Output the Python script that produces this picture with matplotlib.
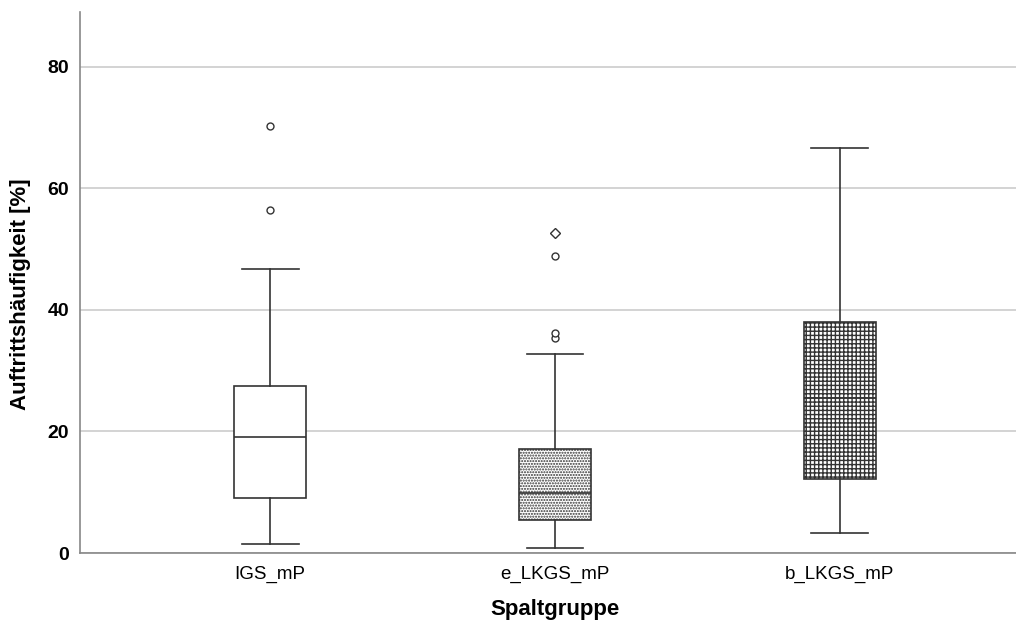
import matplotlib.pyplot as plt

plt.rcParams['font.family'] = ['Liberation Sans', 'DejaVu Sans']

groups = ["IGS_mP", "e_LKGS_mP", "b_LKGS_mP"]
whislo = [1.5, 0.8, 3.3]
q1 = [9.0, 5.4, 12.2]
med = [19.1, 9.9, 25.5]
q3 = [27.5, 17.1, 38.0]
whishi = [46.7, 32.8, 66.7]
outliers = [[56.5, 70.3], [35.4, 36.2, 48.9], []]
extremes = [[], [52.7], []]
hatches = ["", "......", "++++"]

stats = []
for i, g in enumerate(groups):
    stats.append(dict(label=g, whislo=whislo[i], q1=q1[i], med=med[i],
                      q3=q3[i], whishi=whishi[i], fliers=outliers[i]))

fig = plt.figure(figsize=(10.16, 6.23), dpi=100)
ax = fig.add_axes([80 / 1016, 70 / 623, 950 / 1016, 541 / 623])

plt.rcParams['hatch.color'] = '#444444'
bp = ax.bxp(stats, positions=[1, 2, 3], widths=0.253, patch_artist=True,
            boxprops=dict(facecolor="white", edgecolor="#333333", linewidth=1.2),
            medianprops=dict(color="#333333", linewidth=1.2),
            whiskerprops=dict(color="#333333", linewidth=1.2),
            capprops=dict(color="#333333", linewidth=1.2),
            capwidths=0.2,
            flierprops=dict(marker="o", markersize=5, markerfacecolor="white",
                            markeredgecolor="#333333", markeredgewidth=1.0))
for box, h in zip(bp["boxes"], hatches):
    box.set_hatch(h)
    box.set_zorder(3)
for m in bp["medians"] + bp["whiskers"] + bp["caps"] + bp["fliers"]:
    m.set_zorder(4)

for i, ex in enumerate(extremes):
    if ex:
        ax.plot([i + 1] * len(ex), ex, linestyle="none", marker="D", markersize=5,
                markerfacecolor="white", markeredgecolor="#333333",
                markeredgewidth=1.0, zorder=4)

ax.set_xlim(0.333, 3.667)
ax.set_ylim(0, 89)
ax.set_yticks([0, 20, 40, 60, 80])
ax.yaxis.grid(True, color="#cccccc", linewidth=1.2)
ax.set_axisbelow(True)
for s in ["top", "right"]:
    ax.spines[s].set_visible(False)
for s in ["left", "bottom"]:
    ax.spines[s].set_color("#888888")
    ax.spines[s].set_linewidth(1.2)
ax.tick_params(axis="y", length=0, labelsize=14, pad=8)
ax.tick_params(axis="x", length=0, labelsize=13.5, pad=9)
for t in ax.get_yticklabels():
    t.set_fontweight("bold")
ax.set_ylabel("Auftrittshäufigkeit [%]", fontsize=16, fontweight="bold")
ax.yaxis.set_label_coords(-0.0516, 0.479)
ax.set_xlabel("Spaltgruppe", fontsize=16, fontweight="bold", labelpad=12)

fig.savefig("out.png", dpi=100)
